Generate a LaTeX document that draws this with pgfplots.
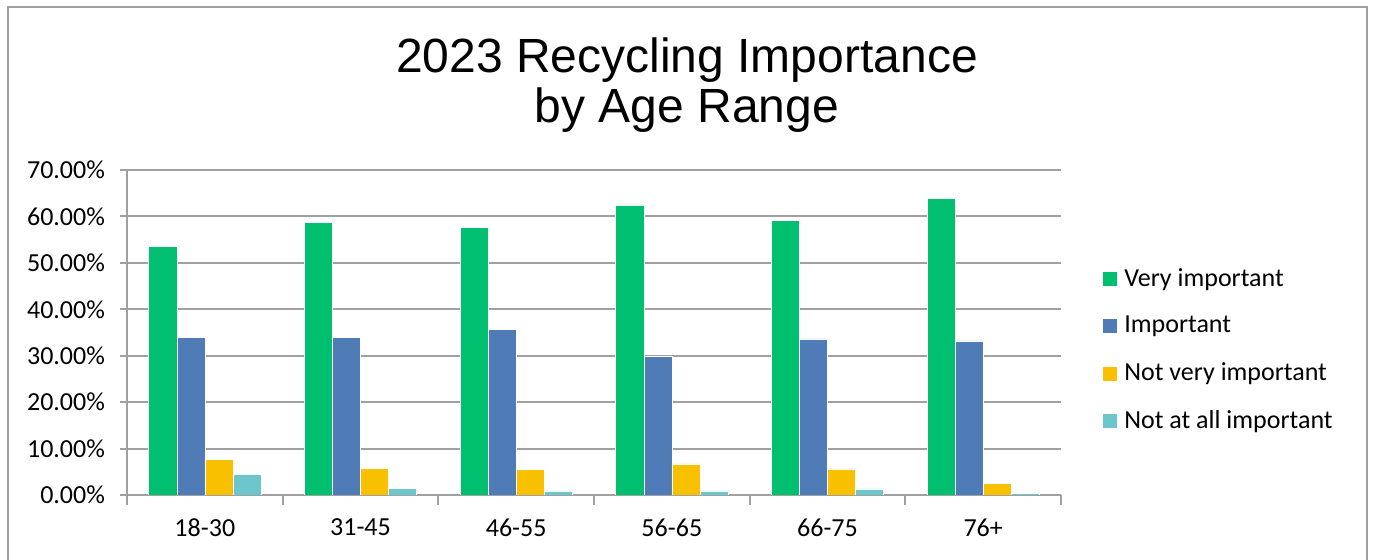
\documentclass[border=0pt]{standalone}
\usepackage{pgfplots}
\pgfplotsset{compat=1.18}
\usepackage{fontspec}
\setmainfont{Carlito}
\newfontfamily\titlefont{Liberation Sans}
\definecolor{vimp}{RGB}{0,191,111}
\definecolor{imp}{RGB}{79,124,182}
\definecolor{nvimp}{RGB}{249,192,0}
\definecolor{naimp}{RGB}{108,198,203}
\definecolor{gridc}{RGB}{160,160,160}

\begin{document}
\begin{tikzpicture}
\useasboundingbox (0pt,0pt) rectangle (687.5pt,280pt);
\draw[gridc, line width=1pt] (4pt,276.5pt) rectangle (683.5pt,-10pt);
\node[font=\titlefont\fontsize{24}{26}\selectfont, anchor=base] at (343.5pt,243.5pt) {2023 Recycling Importance};
\node[font=\titlefont\fontsize{24}{26}\selectfont, anchor=base] at (343.5pt,218.5pt) {by Age Range};

\begin{axis}[
  at={(63.5pt,32.5pt)}, anchor=south west,
  scale only axis, width=467pt, height=162.5pt,
  xmin=-0.5, xmax=5.5, ymin=0, ymax=70,
  axis x line*=bottom, axis y line*=left,
  axis line style={gridc, line width=1pt},
  ymajorgrids, grid style={gridc, line width=1pt},
  tick style={gridc, line width=1pt},
  tick align=outside,
  major tick length=3.5pt, minor tick length=5pt,
  ytick={0,10,...,70},
  yticklabels={0.00\%,10.00\%,20.00\%,30.00\%,40.00\%,50.00\%,60.00\%,70.00\%},
  yticklabel style={xshift=-4pt},
  xtick={0,...,5},
  xticklabels={18-30,31-45,46-55,56-65,66-75,76+},
  xticklabel style={yshift=-5pt},
  major x tick style={draw=none},
  minor xtick={-0.5,0.5,...,5.5},
  ticklabel style={font=\fontsize{13}{15}\selectfont, text=black},
  ybar=0pt, bar width=0.18,
  legend cell align=left,
  legend style={at={(1.0368,0.446)}, anchor=west, draw=none, fill=none,
    font=\fontsize{13}{15}\selectfont, row sep=13.5pt, nodes={inner sep=0pt}},
  legend image code/.code={\fill[#1] (0pt,-3.75pt) rectangle (7.5pt,3.75pt); \path (11pt,0pt);},
]
\addplot[fill=vimp, draw=white, line width=0.3pt] coordinates {(0,53.6) (1,58.7) (2,57.7) (3,62.5) (4,59.2) (5,63.8)};
\addplot[fill=imp, draw=white, line width=0.3pt] coordinates {(0,34.0) (1,33.9) (2,35.7) (3,29.9) (4,33.6) (5,33.2)};
\addplot[fill=nvimp, draw=white, line width=0.3pt] coordinates {(0,7.75) (1,5.75) (2,5.45) (3,6.7) (4,5.6) (5,2.5)};
\addplot[fill=naimp, draw=white, line width=0.3pt] coordinates {(0,4.45) (1,1.44) (2,0.86) (3,0.86) (4,1.3) (5,0.4)};
\legend{Very important, Important, Not very important, Not at all important}
\end{axis}
\end{tikzpicture}
\end{document}
